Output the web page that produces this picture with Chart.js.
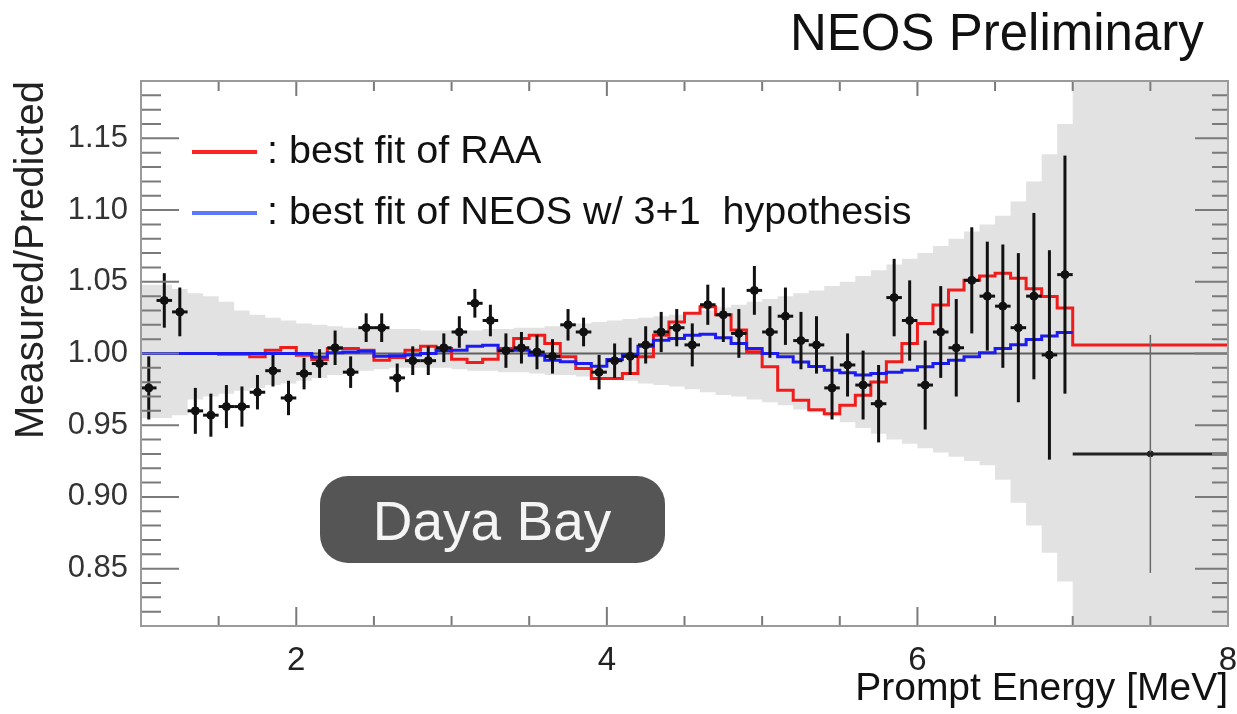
<!DOCTYPE html>
<html>
<head>
<meta charset="utf-8">
<title>NEOS / Daya Bay ratio</title>
<script src="https://cdn.jsdelivr.net/npm/chart.js@4.4.0/dist/chart.umd.min.js"></script>
<style>
  html, body { margin: 0; padding: 0; background: #fff; }
</style>
</head>
<body>
<canvas id="ratioChart" width="1237" height="714"></canvas>
<script>
// bin edges of the 0.1 MeV histograms (1 - 7 MeV), last bin 7 - 8 MeV
const binEdges = [1.0,1.1,1.2,1.3,1.4,1.5,1.6,1.7,1.8,1.9,2.0,2.1,2.2,2.3,2.4,2.5,2.6,2.7,2.8,2.9,
  3.0,3.1,3.2,3.3,3.4,3.5,3.6,3.7,3.8,3.9,4.0,4.1,4.2,4.3,4.4,4.5,4.6,4.7,4.8,4.9,
  5.0,5.1,5.2,5.3,5.4,5.5,5.6,5.7,5.8,5.9,6.0,6.1,6.2,6.3,6.4,6.5,6.6,6.7,6.8,6.9,7.0];
const overflowEdge = 8.0;

// measured / predicted points
const pointE = [1.05,1.15,1.25,1.35,1.45,1.55,1.65,1.75,1.85,1.95,2.05,2.15,2.25,2.35,2.45,2.55,2.65,2.75,2.85,2.95,
  3.05,3.15,3.25,3.35,3.45,3.55,3.65,3.75,3.85,3.95,4.05,4.15,4.25,4.35,4.45,4.55,4.65,4.75,4.85,4.95,
  5.05,5.15,5.25,5.35,5.45,5.55,5.65,5.75,5.85,5.95,6.05,6.15,6.25,6.35,6.45,6.55,6.65,6.75,6.85,6.95];
const pointRatio = [0.976,1.037,1.029,0.960,0.957,0.963,0.963,0.973,0.988,0.969,
  0.986,0.993,1.004,0.987,1.018,1.018,0.983,0.995,0.995,1.004,
  1.015,1.035,1.023,1.002,1.004,1.001,0.998,1.020,1.015,0.987,
  0.995,0.998,1.006,1.015,1.018,1.006,1.034,1.027,1.014,1.044,
  1.015,1.026,1.009,1.006,0.976,0.992,0.978,0.965,1.039,1.023,
  0.978,1.015,1.004,1.051,1.040,1.033,1.018,1.040,0.999,1.055];
const pointErr = [0.022,0.019,0.017,0.016,0.015,0.015,0.014,0.012,0.011,0.012,
  0.011,0.010,0.012,0.011,0.010,0.010,0.010,0.010,0.010,0.010,
  0.011,0.010,0.011,0.012,0.011,0.012,0.012,0.011,0.010,0.012,
  0.012,0.013,0.013,0.014,0.013,0.015,0.014,0.019,0.017,0.017,
  0.018,0.020,0.020,0.020,0.022,0.022,0.024,0.027,0.027,0.028,
  0.031,0.032,0.034,0.037,0.038,0.043,0.052,0.058,0.073,0.083];
const binHalf = 0.05;

// wide last bin (7 - 8 MeV)
const overflowE = 7.5;
const overflowRatio = 0.930;
const overflowErr = 0.083;
const overflowHalf = 0.5;

// best fit of RAA (last value = 7 - 8 MeV bin)
const redFit = [1.000,1.000,1.000,1.000,1.000,0.9995,0.9995,0.9977,1.0023,1.0042,
  0.9988,0.9958,1.0035,1.0035,1.0023,0.9953,0.9972,1.0023,1.005,1.0035,
  0.996,0.9937,0.996,1.0035,1.0105,1.0128,1.007,0.9977,0.9895,0.9825,
  0.9825,0.986,0.9977,1.0128,1.022,1.028,1.0326,1.027,1.0163,1.0012,
  0.9907,0.9744,0.9674,0.9608,0.958,0.9639,0.9709,0.9802,0.9942,1.007,
  1.021,1.0338,1.0443,1.051,1.054,1.056,1.0524,1.0451,1.0398,1.0317,
  1.006];

// best fit of NEOS w/ 3+1
const blueFit = [1.000,1.000,1.000,1.000,1.000,1.000,1.000,1.000,1.000,1.000,
  1.000,0.9975,1.0005,1.001,1.0015,0.998,0.9985,0.999,1.000,1.002,
  1.0023,1.005,1.0058,1.0023,1.0023,0.9988,0.9953,0.9942,0.993,0.9911,
  0.9958,0.9993,1.005,1.0093,1.0105,1.0128,1.0135,1.011,1.007,1.0035,
  1.000,0.9977,0.994,0.991,0.9883,0.9865,0.985,0.986,0.987,0.9883,
  0.9907,0.993,0.9953,0.9977,1.0005,1.0035,1.0061,1.0098,1.0122,1.0146];

// systematic band (upper / lower edge), last value = 7 - 8 MeV bin
const bandHigh = [1.048,1.048,1.045,1.042,1.040,1.036,1.030,1.027,1.025,1.023,
  1.021,1.020,1.019,1.018,1.018,1.017,1.017,1.017,1.016,1.016,
  1.016,1.016,1.017,1.017,1.018,1.018,1.019,1.020,1.021,1.022,
  1.023,1.024,1.025,1.026,1.027,1.029,1.030,1.032,1.034,1.036,
  1.038,1.040,1.042,1.044,1.047,1.050,1.054,1.058,1.062,1.066,
  1.070,1.075,1.080,1.085,1.090,1.096,1.106,1.120,1.139,1.160,
  1.200];
const bandLow = [0.955,0.955,0.957,0.968,0.970,0.972,0.974,0.976,0.978,0.979,
  0.981,0.983,0.985,0.987,0.988,0.989,0.990,0.990,0.990,0.990,
  0.989,0.988,0.988,0.987,0.987,0.986,0.985,0.985,0.984,0.983,
  0.982,0.981,0.979,0.978,0.977,0.975,0.973,0.971,0.970,0.968,
  0.966,0.964,0.961,0.959,0.956,0.952,0.948,0.944,0.940,0.937,
  0.934,0.931,0.928,0.925,0.922,0.912,0.896,0.880,0.861,0.841,
  0.800];

const unityRatio = 1.0;
const xTickLabels = [2, 4, 6, 8];
const yTickLabels = [0.85, 0.90, 0.95, 1.00, 1.05, 1.10, 1.15];

const RED = '#f01c1c';
const BLUE = '#1c1cf0';
const BAND = '#e2e2e2';

Chart.defaults.font.family = "'Liberation Sans', Helvetica, Arial, sans-serif";

// step histogram: one point per left edge, plus the closing right edge
function histPoints(edges, values) {
  const pts = values.map((v, i) => ({ x: edges[i], y: v }));
  pts.push({ x: edges[values.length], y: values[values.length - 1] });
  return pts;
}

const wideEdges = binEdges.concat([overflowEdge]);

const errorBars = {
  id: 'errorBars',
  afterDatasetsDraw(chart) {
    const { ctx, chartArea, scales: { x, y } } = chart;
    ctx.save();
    ctx.beginPath();
    ctx.rect(chartArea.left, chartArea.top, chartArea.right - chartArea.left, chartArea.bottom - chartArea.top);
    ctx.clip();
    chart.data.datasets.forEach(ds => {
      if (!ds.errY) return;
      ds.data.forEach((p, i) => {
        const px = x.getPixelForValue(p.x);
        const py = y.getPixelForValue(p.y);
        ctx.strokeStyle = ds.vColor;
        ctx.lineWidth = ds.vWidth;
        ctx.beginPath();
        ctx.moveTo(px, y.getPixelForValue(p.y + ds.errY[i]));
        ctx.lineTo(px, y.getPixelForValue(p.y - ds.errY[i]));
        ctx.stroke();
        ctx.strokeStyle = ds.hColor;
        ctx.lineWidth = ds.hWidth;
        ctx.beginPath();
        ctx.moveTo(x.getPixelForValue(p.x - ds.errX[i]), py);
        ctx.lineTo(x.getPixelForValue(p.x + ds.errX[i]), py);
        ctx.stroke();
      });
    });
    ctx.restore();
  }
};

const decor = {
  id: 'decor',
  afterDraw(chart) {
    const { ctx, chartArea: a, scales: { x, y } } = chart;
    ctx.save();

    // inward ticks, ROOT style
    ctx.strokeStyle = '#7a7a7a';
    ctx.lineWidth = 2;
    ctx.beginPath();
    for (let n = 81; n <= 119; n++) {
      const py = y.getPixelForValue(n / 100);
      const major = n % 5 === 0;
      ctx.moveTo(a.left, py);
      ctx.lineTo(a.left + (major ? 38 : 20), py);
      ctx.moveTo(a.right, py);
      ctx.lineTo(a.right - (major ? 33 : 16), py);
    }
    for (let n = 3; n <= 15; n++) {
      const px = x.getPixelForValue(n / 2);
      const major = n % 4 === 0;
      ctx.moveTo(px, a.bottom);
      ctx.lineTo(px, a.bottom - (major ? 19 : 10));
      ctx.moveTo(px, a.top);
      ctx.lineTo(px, a.top + (major ? 15 : 10));
    }
    ctx.stroke();

    // frame
    ctx.strokeStyle = '#9a9a9a';
    ctx.lineWidth = 2;
    ctx.strokeRect(a.left, a.top, a.right - a.left, a.bottom - a.top);

    // legend
    ctx.font = "39.5px 'Liberation Sans', Arial, sans-serif";
    ctx.fillStyle = '#111';
    ctx.textBaseline = 'alphabetic';
    ctx.textAlign = 'left';
    const rows = [
      { color: '#ff2424', text: ': best fit of RAA', y: 152 },
      { color: '#5a78ff', text: ': best fit of NEOS w/ 3+1  hypothesis', y: 213 }
    ];
    rows.forEach(r => {
      ctx.strokeStyle = r.color;
      ctx.lineWidth = 4;
      ctx.beginPath();
      ctx.moveTo(192, r.y);
      ctx.lineTo(257, r.y);
      ctx.stroke();
      ctx.fillText(r.text, 267, r.y + 11);
    });

    // Daya Bay label box
    ctx.fillStyle = '#555555';
    ctx.beginPath();
    ctx.roundRect(320, 476, 345, 87, 28);
    ctx.fill();
    ctx.fillStyle = '#f4f4f4';
    ctx.font = "55px 'Liberation Sans', Arial, sans-serif";
    ctx.textAlign = 'center';
    ctx.fillText('Daya Bay', 492, 540);

    // header
    ctx.fillStyle = '#111';
    ctx.textAlign = 'left';
    ctx.font = "51px 'Liberation Sans', Arial, sans-serif";
    ctx.fillText('NEOS Preliminary', 790, 50);

    ctx.restore();
  }
};

new Chart(document.getElementById('ratioChart'), {
  type: 'line',
  data: {
    datasets: [
      {
        label: 'Data',
        data: pointE.map((e, i) => ({ x: e, y: pointRatio[i] })),
        showLine: false,
        pointRadius: 4,
        pointBackgroundColor: '#111',
        pointBorderColor: '#111',
        errY: pointErr,
        errX: pointE.map(() => binHalf),
        vColor: '#111', vWidth: 3, hColor: '#111', hWidth: 3
      },
      {
        label: 'Data 7-8 MeV',
        data: [{ x: overflowE, y: overflowRatio }],
        showLine: false,
        pointRadius: 3,
        pointBackgroundColor: '#111',
        pointBorderColor: '#111',
        errY: [overflowErr],
        errX: [overflowHalf],
        vColor: '#6a6a6a', vWidth: 1.5, hColor: '#222', hWidth: 3
      },
      {
        label: 'best fit of NEOS w/ 3+1 hypothesis',
        data: histPoints(binEdges, blueFit),
        stepped: true,
        borderColor: BLUE,
        borderWidth: 3,
        pointRadius: 0,
        fill: false
      },
      {
        label: 'best fit of RAA',
        data: histPoints(wideEdges, redFit),
        stepped: true,
        borderColor: RED,
        borderWidth: 3,
        pointRadius: 0,
        fill: false
      },
      {
        label: 'unity',
        data: [{ x: 1, y: unityRatio }, { x: 8, y: unityRatio }],
        borderColor: '#606060',
        borderWidth: 2,
        pointRadius: 0,
        fill: false
      },
      {
        label: 'band high',
        data: histPoints(wideEdges, bandHigh),
        stepped: true,
        borderWidth: 0,
        borderColor: 'rgba(0,0,0,0)',
        pointRadius: 0,
        fill: false
      },
      {
        label: 'band low',
        data: histPoints(wideEdges, bandLow),
        stepped: true,
        borderWidth: 0,
        borderColor: 'rgba(0,0,0,0)',
        backgroundColor: BAND,
        pointRadius: 0,
        fill: '-1'
      }
    ]
  },
  options: {
    responsive: false,
    animation: false,
    events: [],
    layout: { padding: { top: 81, right: 9, bottom: 0, left: 0 } },
    plugins: { legend: { display: false }, tooltip: { enabled: false } },
    scales: {
      x: {
        type: 'linear',
        min: 1, max: 8,
        grid: { display: false, drawTicks: false },
        border: { display: false },
        afterBuildTicks: s => { s.ticks = xTickLabels.map(v => ({ value: v })); },
        afterFit: s => { s.height = 88; s.paddingLeft = 0; s.paddingRight = 0; },
        ticks: { padding: 15, color: '#222', font: { size: 33 }, maxRotation: 0, autoSkip: false },
        title: {
          display: true, text: 'Prompt Energy [MeV]', align: 'end', color: '#111',
          font: { size: 39 }, padding: { top: 0, bottom: 1 }
        }
      },
      y: {
        type: 'linear',
        min: 0.81, max: 1.19,
        grid: { display: false, drawTicks: false },
        border: { display: false },
        afterBuildTicks: s => { s.ticks = yTickLabels.map(v => ({ value: v })); },
        afterFit: s => { s.width = 141; s.paddingTop = 0; s.paddingBottom = 0; },
        ticks: { padding: 13, color: '#333', font: { size: 31 }, autoSkip: false, callback: v => v.toFixed(2) },
        title: {
          display: true, text: 'Measured/Predicted', align: 'end', color: '#222',
          font: { size: 40 }, padding: { top: 8, bottom: 0 }
        }
      }
    }
  },
  plugins: [errorBars, decor]
});
</script>
</body>
</html>
